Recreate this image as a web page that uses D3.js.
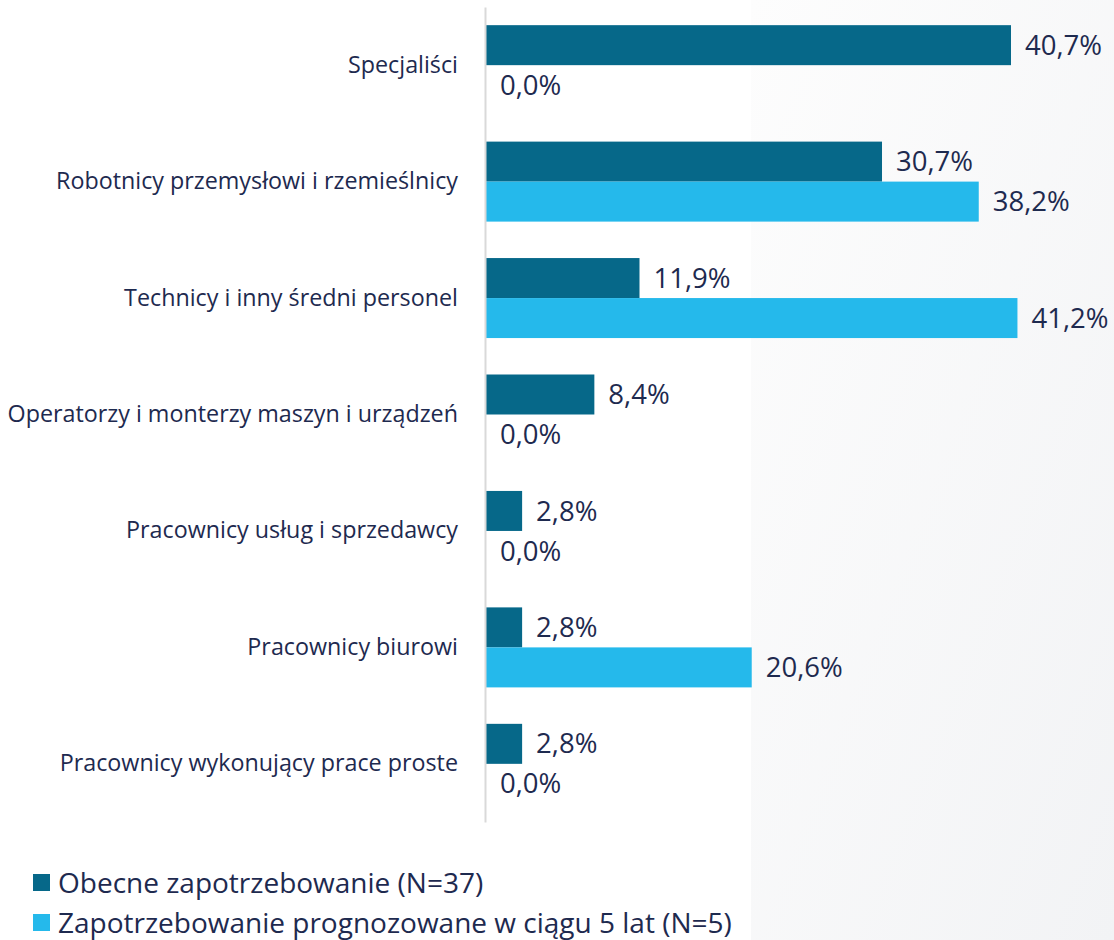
<!DOCTYPE html>
<html>
<head>
<meta charset="utf-8">
<script src="https://cdn.jsdelivr.net/npm/d3@7"></script>
<style>
  body { margin: 0; background: #fff; }
  svg { display: block; }
</style>
</head>
<body>
<script>
// data
const categories = [
  "Specjaliści",
  "Robotnicy przemysłowi i rzemieślnicy",
  "Technicy i inny średni personel",
  "Operatorzy i monterzy maszyn i urządzeń",
  "Pracownicy usług i sprzedawcy",
  "Pracownicy biurowi",
  "Pracownicy wykonujący prace proste"
];
const seriesNames = ["Obecne zapotrzebowanie (N=37)", "Zapotrzebowanie prognozowane w ciągu 5 lat (N=5)"];
const current = [40.7, 30.7, 11.9, 8.4, 2.8, 2.8, 2.8];
const forecast = [0.0, 38.2, 41.2, 0.0, 0.0, 20.6, 0.0];
const colors = ["#066889", "#25B9EB"];

const width = 1114, height = 940;
const textColor = "#1E2A4F";
const font = "'Open Sans', 'Noto Sans', sans-serif";

const svg = d3.select("body").append("svg")
    .attr("width", width)
    .attr("height", height);

// light grey panel on the right
const defs = svg.append("defs");
const grad = defs.append("linearGradient")
    .attr("id", "panel").attr("x1", "0").attr("y1", "0").attr("x2", "1").attr("y2", "1");
grad.append("stop").attr("offset", "0").attr("stop-color", "#fdfdfd");
grad.append("stop").attr("offset", "1").attr("stop-color", "#f2f3f5");
svg.append("rect")
    .attr("x", 751).attr("y", 0)
    .attr("width", width - 751).attr("height", height)
    .attr("fill", "url(#panel)");

// scales
const x0 = 486;
const xScale = d3.scaleLinear()
    .domain([0, 40.7])
    .range([x0, 1011]);

const yScale = d3.scaleBand()
    .domain(categories)
    .range([7, 822])
    .paddingInner(0.313)
    .paddingOuter(0.156);

const inner = d3.scaleBand()
    .domain([0, 1])
    .range([0, yScale.bandwidth()]);

const rows = categories.map((c, i) => ({cat: c, vals: [current[i], forecast[i]]}));

// bars
const groups = svg.selectAll("g.row")
    .data(rows)
    .join("g")
    .attr("class", "row")
    .attr("transform", d => "translate(0," + yScale(d.cat) + ")");

groups.selectAll("rect")
    .data(d => d.vals.map((v, k) => ({v, k})))
    .join("rect")
    .attr("x", x0)
    .attr("y", d => inner(d.k))
    .attr("width", d => xScale(d.v) - x0)
    .attr("height", inner.bandwidth())
    .attr("fill", d => colors[d.k]);

groups.selectAll("text.val")
    .data(d => d.vals.map((v, k) => ({v, k})))
    .join("text")
    .attr("class", "val")
    .attr("x", d => xScale(d.v) + 14)
    .attr("y", d => inner(d.k) + inner.bandwidth() / 2)
    .attr("dy", "0.35em")
    .attr("fill", textColor)
    .style("font-family", font)
    .style("font-size", "27.5px")
    .text(d => d.v.toFixed(1).replace(".", ",") + "%");

// axis
const leftAxis = d3.axisLeft(yScale).tickSize(0).tickPadding(27);
const ax = svg.append("g")
    .attr("transform", "translate(" + (x0 - 1) + ",0)")
    .call(leftAxis);
ax.select(".domain").attr("stroke", "#d9d9d9").attr("stroke-width", 2);
ax.selectAll("text")
    .attr("fill", textColor)
    .style("font-family", font)
    .style("font-size", "23.3px");

// legend
const legend = svg.append("g");
seriesNames.forEach((name, i) => {
  const yy = 883 + i * 40;
  legend.append("rect")
      .attr("x", 33).attr("y", yy - 9)
      .attr("width", 17).attr("height", 17)
      .attr("fill", colors[i]);
  legend.append("text")
      .attr("x", 58).attr("y", yy)
      .attr("dy", "0.35em")
      .attr("fill", textColor)
      .style("font-family", font)
      .style("font-size", "28px")
      .text(name);
});
</script>
</body>
</html>
